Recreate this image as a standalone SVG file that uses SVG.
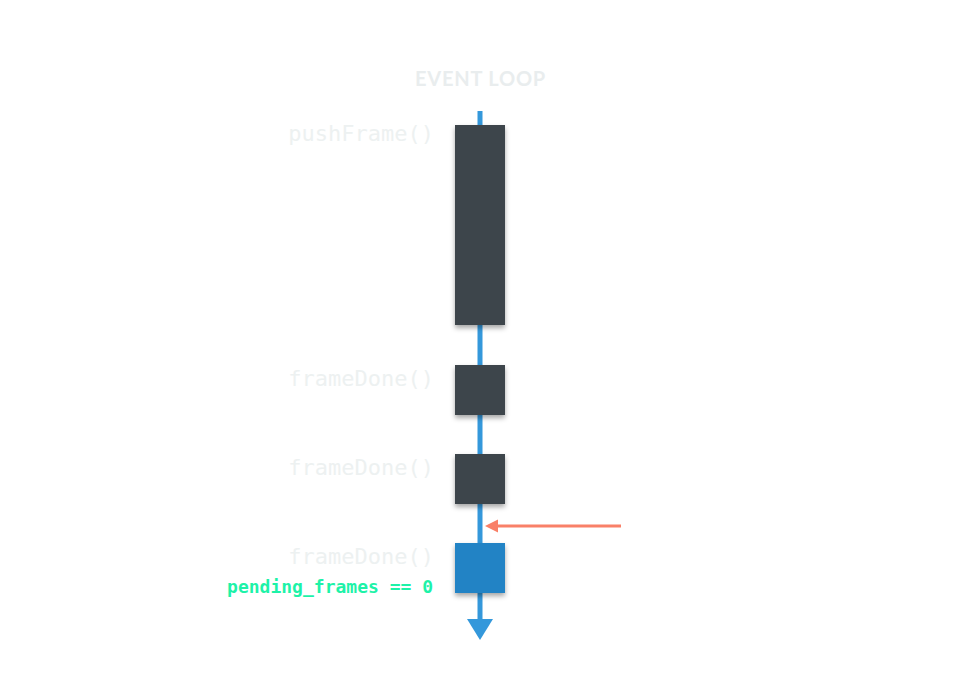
<svg xmlns="http://www.w3.org/2000/svg" width="960" height="700" viewBox="0 0 960 700">
<style>
.lbl{font-family:"DejaVu Sans Mono","Liberation Mono",monospace;font-size:22px;fill:#EDF1F1;text-anchor:end}
.box{fill:#3E454C;filter:url(#sh)}
</style>
<defs>
<filter id="sh" x="-30%" y="-30%" width="160%" height="160%">
<feDropShadow dx="0" dy="3" stdDeviation="2.5" flood-color="#000" flood-opacity="0.35"/>
</filter>
<marker id="ah" viewBox="0 0 10 10" refX="0" refY="5" markerWidth="13" markerHeight="14" markerUnits="userSpaceOnUse" orient="auto">
<path d="M0,0 L10,5 L0,10 z" fill="#F98068"/>
</marker>
</defs>
<rect width="960" height="700" fill="#fff"/>
<text x="480.5" y="86" text-anchor="middle" font-family="Lato,'Open Sans',sans-serif" font-weight="bold" font-size="20" fill="#E9EDEE" letter-spacing="0.8">EVENT LOOP</text>
<g id="connectors">
<line x1="480" y1="111" x2="480" y2="622" stroke="#3498DB" stroke-width="5"/>
<polygon points="467,619 493,619 480,640" fill="#3498DB"/>
<line x1="621" y1="526" x2="498" y2="526" stroke="#F98068" stroke-width="3" marker-end="url(#ah)"/>
</g>
<g id="node-push"><rect class="box" x="455" y="125" width="50" height="200"/><text class="lbl" x="434" y="141">pushFrame()</text></g>
<g id="node-done1"><rect class="box" x="455" y="365" width="50" height="50"/><text class="lbl" x="434" y="386">frameDone()</text></g>
<g id="node-done2"><rect class="box" x="455" y="454" width="50" height="50"/><text class="lbl" x="434" y="475">frameDone()</text></g>
<g id="node-done3"><rect class="box" x="455" y="543" width="50" height="50" style="fill:#2283C5"/><text class="lbl" x="434" y="564">frameDone()</text>
<text x="433" y="593" text-anchor="end" font-family="'DejaVu Sans Mono',monospace" font-weight="bold" font-size="18" fill="#1DF2A8">pending_frames == 0</text></g>
</svg>
